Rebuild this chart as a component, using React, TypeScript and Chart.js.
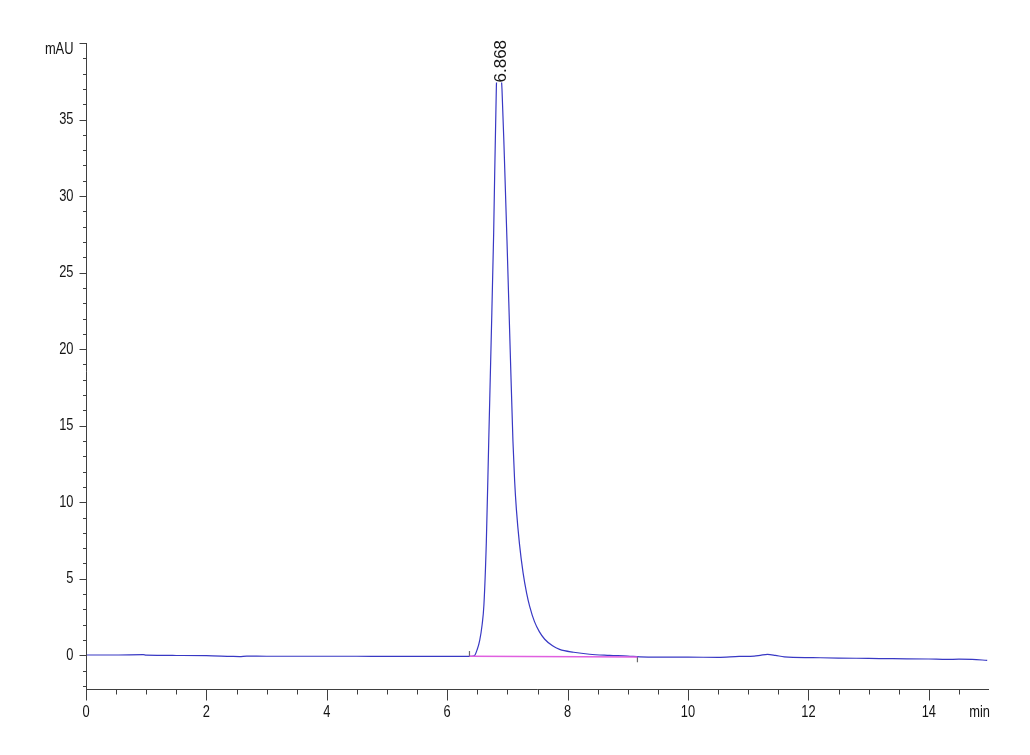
import React, { useEffect, useRef } from "react";
import { Chart, registerables } from "chart.js";

Chart.register(...registerables);

// Chromatogram trace (time in min, signal in mAU)
const timeMin = [
  0.0, 0.5, 0.95, 1.0, 1.5, 2.0, 2.42, 2.55, 2.67, 3.0, 3.5, 4.0, 4.5, 5.0, 5.5, 6.0, 6.3, 6.4,
  6.45, 6.5, 6.54, 6.58, 6.61, 6.65, 6.69, 6.73, 6.772, 6.817, 6.84, 6.868, 6.89, 6.91, 6.95,
  6.993, 7.046, 7.092, 7.12, 7.15, 7.2, 7.26, 7.32, 7.37, 7.45, 7.53, 7.62, 7.75, 7.867, 8.1,
  8.365, 8.7, 9.0, 9.2, 9.5, 10.0, 10.5, 10.85, 11.1, 11.2, 11.32, 11.45, 11.6, 12.07, 12.5,
  13.0, 13.4, 14.0, 14.3, 14.5, 14.72, 14.97,
];
const signalMAU = [
  0.02, 0.02, 0.04, 0.01, -0.01, -0.02, -0.07, -0.08, -0.05, -0.06, -0.06, -0.06, -0.06, -0.07,
  -0.07, -0.07, -0.07, -0.06, -0.03, 0.4, 0.98, 2.0, 3.3, 7.4, 14.0, 20.5, 27.6, 37.2, 38.1,
  38.4, 38.1, 37.0, 32.5, 27.1, 20.0, 14.0, 11.4, 9.5, 7.3, 5.4, 4.05, 3.2, 2.2, 1.55, 1.05,
  0.62, 0.39, 0.2, 0.07, 0.0, -0.05, -0.1, -0.12, -0.12, -0.13, -0.07, -0.05, 0.0, 0.06, 0.0,
  -0.1, -0.15, -0.18, -0.2, -0.22, -0.24, -0.27, -0.25, -0.26, -0.33,
];

// Integration baseline of the peak
const baselineTime = [6.37, 9.16];
const baselineMAU = [-0.06, -0.11];

// Peak start / end markers
const peakStartTime = [6.37, 6.37];
const peakStartMAU = [-0.05, 0.28];
const peakEndTime = [9.16, 9.16];
const peakEndMAU = [-0.11, -0.46];

// Peak annotation
const peakLabel = "6.868";
const peakApexTime = 6.868;
const peakApexMAU = 38.4;

// Axes
const xTickValues = [0, 2, 4, 6, 8, 10, 12, 14];
const xTickLabels = ["0", "2", "4", "6", "8", "10", "12", "14"];
const yTickValues = [0, 5, 10, 15, 20, 25, 30, 35, 40];
const yTickLabels = ["0", "5", "10", "15", "20", "25", "30", "35", "mAU"];
const xUnitLabel = "min";
const xMin = 0;
const xMax = 15;
const yMin = -2.2;
const yMax = 40;

const zip = (xs: number[], ys: number[]) => xs.map((x, i) => ({ x, y: ys[i] }));

const FONT = "16.5px 'Liberation Sans', Arial, sans-serif";

function drawNarrowText(
  ctx: CanvasRenderingContext2D,
  text: string,
  x: number,
  y: number,
  align: CanvasTextAlign
) {
  ctx.save();
  ctx.translate(x, y);
  ctx.scale(0.78, 1);
  ctx.font = FONT;
  ctx.textAlign = align;
  ctx.textBaseline = "middle";
  ctx.fillText(text, 0, 0);
  ctx.restore();
}

const axesPlugin = {
  id: "hplcAxes",
  afterDraw(chart: any) {
    const ctx: CanvasRenderingContext2D = chart.ctx;
    const xs = chart.scales.x;
    const ys = chart.scales.y;
    const { left, right, top, bottom } = chart.chartArea;
    ctx.save();
    ctx.strokeStyle = "#3f3f3f";
    ctx.lineWidth = 1;
    ctx.beginPath();
    const ax = Math.round(left) + 0.5;
    const ay = Math.round(bottom) + 0.5;
    ctx.moveTo(ax, top);
    ctx.lineTo(ax, ay + 11);
    ctx.moveTo(ax, ay);
    ctx.lineTo(right, ay);
    // y ticks (minor every 1, major every 5)
    for (let v = -2; v <= yMax; v++) {
      const py = Math.round(ys.getPixelForValue(v)) + 0.5;
      const len = v % 5 === 0 ? 7 : 3.5;
      ctx.moveTo(ax - len, py);
      ctx.lineTo(ax, py);
    }
    // x ticks (minor every 0.5, major every 2)
    for (let i = 1; i < 30; i++) {
      const v = i * 0.5;
      const px = Math.round(xs.getPixelForValue(v)) + 0.5;
      const len = v % 2 === 0 ? 11 : 5;
      ctx.moveTo(px, ay);
      ctx.lineTo(px, ay + len);
    }
    ctx.stroke();

    ctx.fillStyle = "#141414";
    yTickValues.forEach((v, i) => {
      const py = ys.getPixelForValue(v) + (i === yTickValues.length - 1 ? 6 : 0);
      drawNarrowText(ctx, yTickLabels[i], left - 12.5, py, "right");
    });
    xTickValues.forEach((v, i) => {
      drawNarrowText(ctx, xTickLabels[i], xs.getPixelForValue(v), bottom + 23, "center");
    });
    drawNarrowText(ctx, xUnitLabel, right + 1, bottom + 23, "right");

    // peak label, rotated, on a white background
    const lx = xs.getPixelForValue(peakApexTime) + 0.5;
    const ly = ys.getPixelForValue(peakApexMAU) + 15;
    ctx.translate(lx, ly);
    ctx.rotate(-Math.PI / 2);
    ctx.font = "17px 'Liberation Sans', Arial, sans-serif";
    ctx.textAlign = "left";
    ctx.textBaseline = "middle";
    const w = ctx.measureText(peakLabel).width;
    ctx.fillStyle = "#ffffff";
    ctx.fillRect(0, -7, w, 14);
    ctx.fillStyle = "#141414";
    ctx.fillText(peakLabel, 0, 1);
    ctx.restore();
  },
};

export default function App() {
  const ref = useRef<HTMLCanvasElement | null>(null);
  useEffect(() => {
    if (!ref.current) return;
    const chart = new Chart(ref.current, {
      type: "line",
      data: {
        datasets: [
          {
            label: "baseline",
            data: zip(baselineTime, baselineMAU),
            borderColor: "#e060e0",
            borderWidth: 1.6,
            pointRadius: 0,
          },
          {
            label: "signal",
            data: zip(timeMin, signalMAU),
            borderColor: "#3838c4",
            borderWidth: 1.2,
            pointRadius: 0,
            cubicInterpolationMode: "monotone",
          },
          {
            label: "start",
            data: zip(peakStartTime, peakStartMAU),
            borderColor: "#6a6a6a",
            borderWidth: 1.2,
            pointRadius: 0,
          },
          {
            label: "end",
            data: zip(peakEndTime, peakEndMAU),
            borderColor: "#6a6a6a",
            borderWidth: 1.2,
            pointRadius: 0,
            clip: false as any,
          },
        ],
      },
      options: {
        responsive: false,
        animation: false,
        layout: { padding: { left: 78, right: 33, top: 35, bottom: 58 } },
        plugins: { legend: { display: false }, tooltip: { enabled: false } },
        scales: {
          x: { type: "linear", min: xMin, max: xMax, display: false },
          y: { type: "linear", min: yMin, max: yMax, display: false },
        },
      },
      plugins: [axesPlugin],
    });
    return () => chart.destroy();
  }, []);
  return (
    <canvas
      ref={ref}
      width={1014}
      height={739}
      style={{ display: "block", width: 1014, height: 739 }}
    />
  );
}
